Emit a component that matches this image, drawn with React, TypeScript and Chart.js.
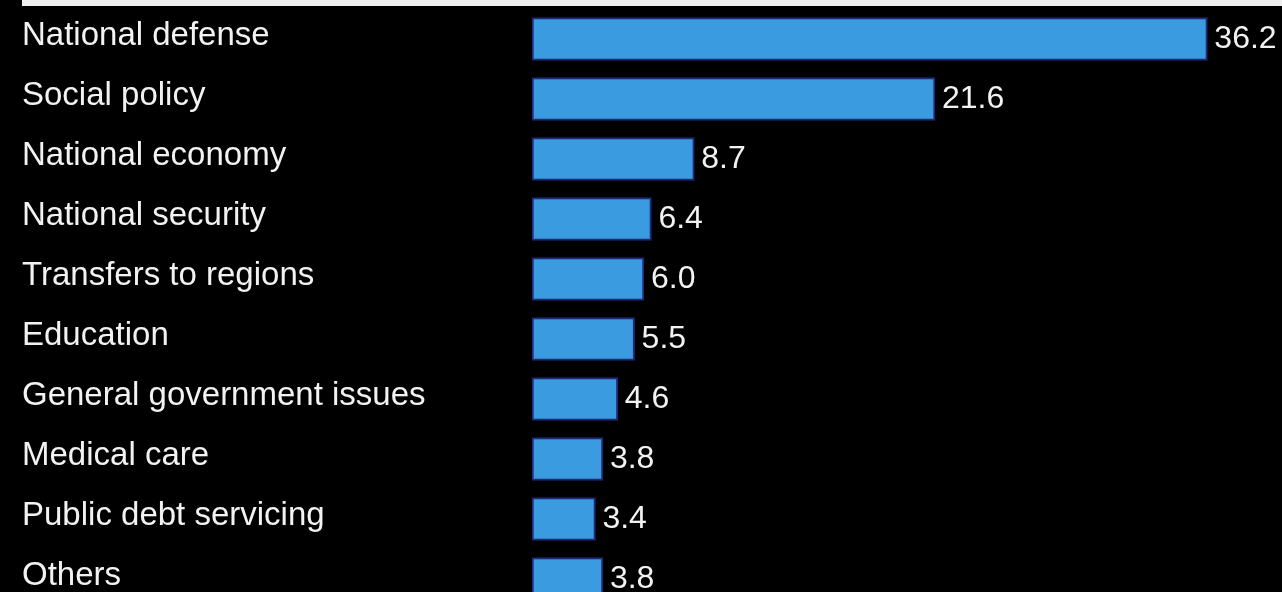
import React, { useEffect, useRef } from "react";
import { Chart, registerables } from "chart.js";

Chart.register(...registerables);

const categories: string[] = [
  "National defense",
  "Social policy",
  "National economy",
  "National security",
  "Transfers to regions",
  "Education",
  "General government issues",
  "Medical care",
  "Public debt servicing",
  "Others",
];

const values: number[] = [36.2, 21.6, 8.7, 6.4, 6.0, 5.5, 4.6, 3.8, 3.4, 3.8];

const valueLabels: string[] = ["36.2", "21.6", "8.7", "6.4", "6.0", "5.5", "4.6", "3.8", "3.4", "3.8"];

const FONT = "'Liberation Sans', Arial, Helvetica, sans-serif";

export default function App() {
  const ref = useRef<HTMLCanvasElement | null>(null);

  useEffect(() => {
    document.body.style.margin = "0";
    document.body.style.background = "#000";
    const canvas = ref.current;
    if (!canvas) return;

    const topLine = {
      id: "topLine",
      beforeDraw(chart: any) {
        const ctx = chart.ctx;
        ctx.save();
        ctx.fillStyle = "#000";
        ctx.fillRect(0, 0, chart.width, chart.height);
        ctx.restore();
      },
      afterDraw(chart: any) {
        const ctx = chart.ctx;
        ctx.save();
        ctx.fillStyle = "#eeeeee";
        ctx.fillRect(22, 0, chart.width - 22, 6);
        ctx.restore();
      },
    };

    const valueLabelPlugin = {
      id: "valueLabels",
      afterDatasetsDraw(chart: any) {
        const ctx = chart.ctx;
        const meta = chart.getDatasetMeta(0);
        ctx.save();
        ctx.fillStyle = "#f2f2f2";
        ctx.font = `32px ${FONT}`;
        ctx.textAlign = "left";
        ctx.textBaseline = "middle";
        meta.data.forEach((bar: any, i: number) => {
          ctx.fillText(valueLabels[i], bar.x + 7, bar.y);
        });
        ctx.restore();
      },
    };

    const chart = new Chart(canvas, {
      type: "bar",
      data: {
        labels: categories,
        datasets: [
          {
            data: values,
            backgroundColor: "#3b9be0",
            borderColor: "#23287a",
            borderWidth: 2,
            borderSkipped: false,
            barThickness: 43,
          },
        ],
      },
      options: {
        indexAxis: "y",
        animation: false,
        responsive: false,
        maintainAspectRatio: false,
        layout: { padding: { left: 22, top: 9, right: 0, bottom: 0 } },
        plugins: {
          legend: { display: false },
          tooltip: { enabled: false },
          title: { display: false },
        },
        scales: {
          x: {
            display: false,
            min: 0,
            max: 40.2,
          },
          y: {
            grid: { display: false },
            border: { display: false },
            afterFit(scale: any) {
              scale.width = 510;
              scale.paddingTop = 0;
              scale.paddingBottom = 0;
            },
            ticks: {
              crossAlign: "far",
              color: "#f2f2f2",
              font: { family: FONT, size: 33 },
              labelOffset: -3,
              autoSkip: false,
              padding: 0,
            },
          },
        },
      },
      plugins: [topLine, valueLabelPlugin],
    });

    return () => chart.destroy();
  }, []);

  return (
    <div
      style={{
        position: "fixed",
        left: 0,
        top: 0,
        width: 1282,
        height: 592,
        overflow: "hidden",
        background: "#000",
      }}
    >
      <canvas ref={ref} width={1282} height={609} style={{ display: "block", width: 1282, height: 609 }} />
    </div>
  );
}
